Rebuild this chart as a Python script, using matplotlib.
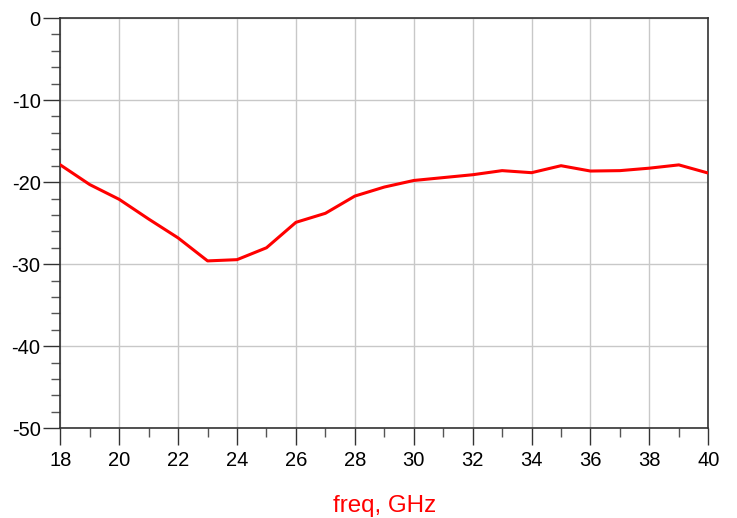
import numpy as np
import matplotlib.pyplot as plt
from matplotlib.ticker import MultipleLocator

plt.rcParams['font.family'] = ['Liberation Sans', 'DejaVu Sans']
plt.rcParams['axes.unicode_minus'] = False

# frequency points (GHz) and measured response (dB)
freq = [18, 19, 20, 21, 22, 23, 24, 25, 26, 27, 28, 29,
        30, 31, 32, 33, 34, 35, 36, 37, 38, 39, 40]
db = [-17.9, -20.3, -22.1, -24.5, -26.8, -29.6, -29.45, -28.0, -24.9, -23.8, -21.7, -20.6,
      -19.8, -19.45, -19.1, -18.6, -18.85, -18.0, -18.65, -18.6, -18.3, -17.9, -18.9]

fig = plt.figure(figsize=(7.37, 5.18), dpi=100)
ax = fig.add_axes([60.3/737, 1 - 428.3/518, 648/737, 410.3/518])

ax.plot(freq, db, color='#ff0000', lw=2.2, zorder=3)

ax.set_xlim(18, 40)
ax.set_ylim(-50, 0)
ax.xaxis.set_major_locator(MultipleLocator(2))
ax.xaxis.set_minor_locator(MultipleLocator(1))
ax.yaxis.set_major_locator(MultipleLocator(10))
ax.yaxis.set_minor_locator(MultipleLocator(2))

ax.grid(which='major', color='#c8c8c8', lw=1.0, zorder=0)
ax.tick_params(which='major', direction='out', length=12.2, width=1.0,
               color='#333333', labelsize=14.5, pad=2)
ax.tick_params(which='minor', direction='out', length=6.5, width=1.0,
               color='#555555')
ax.tick_params(axis='x', which='major', pad=4)
for s in ax.spines.values():
    s.set_color('#333333')
    s.set_linewidth(1.2)

ax.set_xlabel('freq, GHz', color='#ff0000', fontsize=17.4, labelpad=18)

fig.savefig('out.png', dpi=100)
